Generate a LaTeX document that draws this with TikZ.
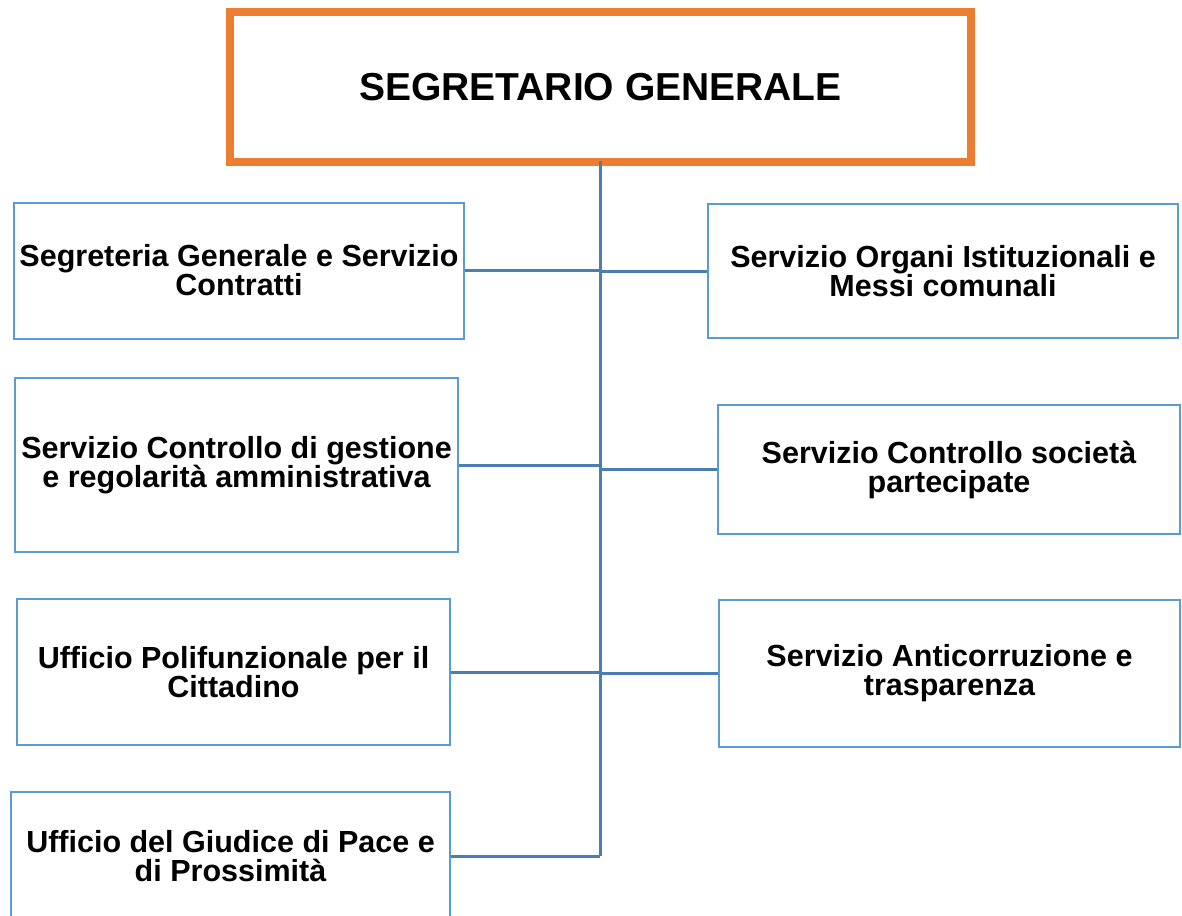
\documentclass[tikz,border=0pt]{standalone}
\usepackage{fontspec}
\setmainfont{Liberation Sans}
\definecolor{orgorange}{HTML}{ED7D31}
\definecolor{boxblue}{HTML}{5B9BD5}
\definecolor{linkblue}{HTML}{4A7EB2}
\begin{document}
\begin{tikzpicture}[x=1pt,y=-1pt,
  unitbox/.style={draw=boxblue,line width=2pt,rectangle,inner sep=0pt,
    font=\bfseries\fontsize{30.5}{29}\selectfont,align=center,text=black},
  topbox/.style={draw=orgorange,line width=8pt,rectangle,inner sep=0pt,
    font=\bfseries\fontsize{39}{44}\selectfont,text=black},
  link/.style={draw=linkblue,line width=3pt}]
\useasboundingbox (0,0) rectangle (1182,915);
\clip (0,0) rectangle (1182,915);
% top box
\node[topbox,minimum width=741,minimum height=150] (sg) at (600.5,87) {SEGRETARIO GENERALE};
% left boxes
\node[unitbox,minimum width=450,minimum height=136] (l1) at (239,270.5)
  {Segreteria Generale e Servizio\\Contratti};
\node[unitbox,minimum width=443,minimum height=174] (l2) at (236.5,465)
  {Servizio Controllo di gestione\\e regolarità amministrativa};
\node[unitbox,minimum width=433,minimum height=146] (l3) at (233.5,672)
  {Ufficio Polifunzionale per il\\Cittadino};
\node[unitbox,minimum width=439,minimum height=128] (l4) at (230.5,856)
  {Ufficio del Giudice di Pace e\\di Prossimità};
% right boxes
\node[unitbox,minimum width=470,minimum height=134] (r1) at (943,271)
  {Servizio Organi Istituzionali e\\Messi comunali};
\node[unitbox,minimum width=462,minimum height=129] (r2) at (949,469.5)
  {Servizio Controllo società\\partecipate};
\node[unitbox,minimum width=461,minimum height=147] (r3) at (949.5,673.5)
  {Servizio Anticorruzione e\\trasparenza};
% spine
\coordinate (sp) at (600,161);
\coordinate (se) at (600,856);
\draw[link] (sp) -- (se);
% connectors
\draw[link] (l1.east) -- (l1.east -| sp);
\draw[link] (l2.east) -- (l2.east -| sp);
\draw[link] (l3.east) -- (l3.east -| sp);
\draw[link] (l4.east) -- (se);
\draw[link] (r1.west) -- (r1.west -| sp);
\draw[link] (r2.west) -- (r2.west -| sp);
\draw[link] (r3.west) -- (r3.west -| sp);
\end{tikzpicture}
\end{document}
